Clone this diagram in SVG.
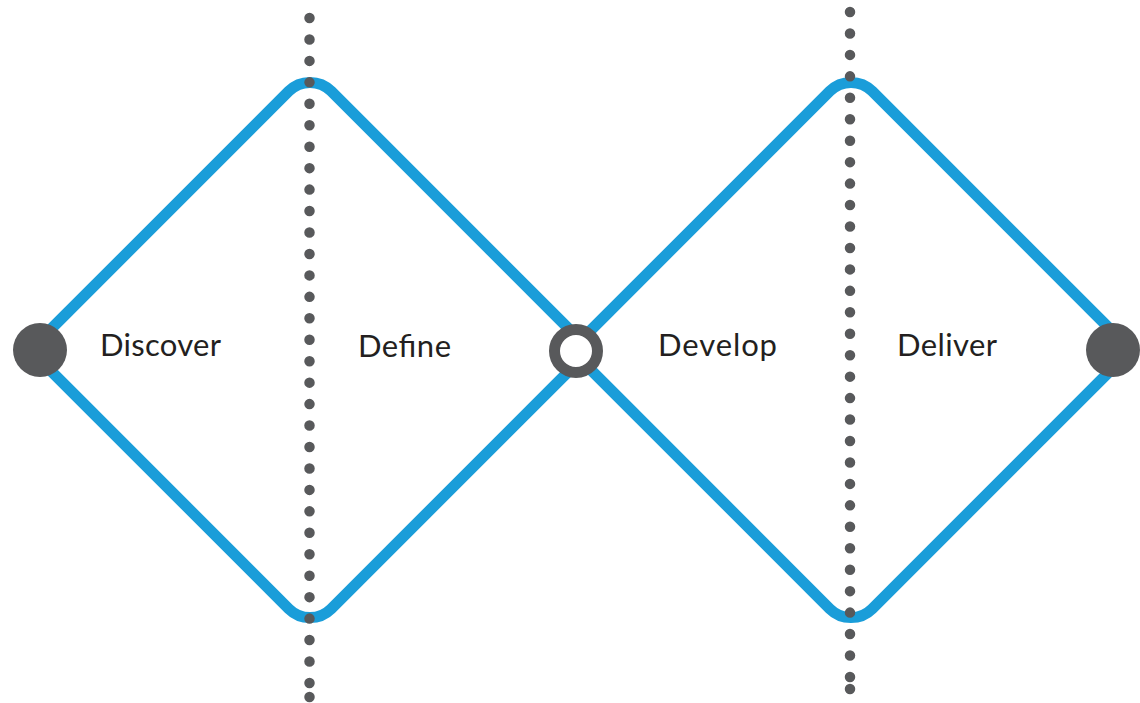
<svg xmlns="http://www.w3.org/2000/svg" width="1140" height="703" viewBox="0 0 1140 703">
  <style>
    .diamond { fill: none; stroke: #1a9dd9; stroke-width: 11; stroke-linejoin: round; }
    .divider { fill: none; stroke: #58595b; stroke-width: 10.5; stroke-linecap: round; stroke-dasharray: 0 21.45; }
    .dot { fill: #58595b; }
    .node { fill: #58595b; }
    .hub { fill: #ffffff; stroke: #58595b; stroke-width: 11; }
    .label { font-family: Lato, "Liberation Sans", sans-serif; font-size: 31px; fill: #231f20; }
  </style>
  <rect width="1140" height="703" fill="#ffffff"/>

  <!-- the two diamonds -->
  <g id="connectors">
    <path class="diamond" d="M30 350 L288.8 91.2 A30 30 0 0 1 331.2 91.2 L590 350 L331.2 608.8 A30 30 0 0 1 288.8 608.8 Z"/>
    <path class="diamond" d="M571 350 L829.8 91.2 A30 30 0 0 1 872.2 91.2 L1131 350 L872.2 608.8 A30 30 0 0 1 829.8 608.8 Z"/>
  </g>

  <!-- dotted phase dividers -->
  <g id="dividers">
    <line class="divider" x1="309.5" y1="18" x2="309.5" y2="690"/>
    <circle class="dot" cx="309.5" cy="697" r="5.25"/>
    <line class="divider" x1="850" y1="12" x2="850" y2="684"/>
    <circle class="dot" cx="850" cy="689" r="5.25"/>
  </g>

  <!-- phase labels -->
  <g id="label-discover"><text class="label" x="100" y="356" textLength="121" lengthAdjust="spacing">Discover</text></g>
  <g id="label-define"><text class="label" x="358" y="357" textLength="93" lengthAdjust="spacing">Define</text></g>
  <g id="label-develop"><text class="label" x="658" y="356" textLength="119" lengthAdjust="spacing">Develop</text></g>
  <g id="label-deliver"><text class="label" x="897" y="356" textLength="100" lengthAdjust="spacing">Deliver</text></g>

  <!-- nodes -->
  <g id="node-start"><circle class="node" cx="40" cy="350" r="27"/></g>
  <g id="node-middle"><circle class="hub" cx="576" cy="351" r="21.5"/></g>
  <g id="node-end"><circle class="node" cx="1113" cy="350" r="27"/></g>
</svg>
